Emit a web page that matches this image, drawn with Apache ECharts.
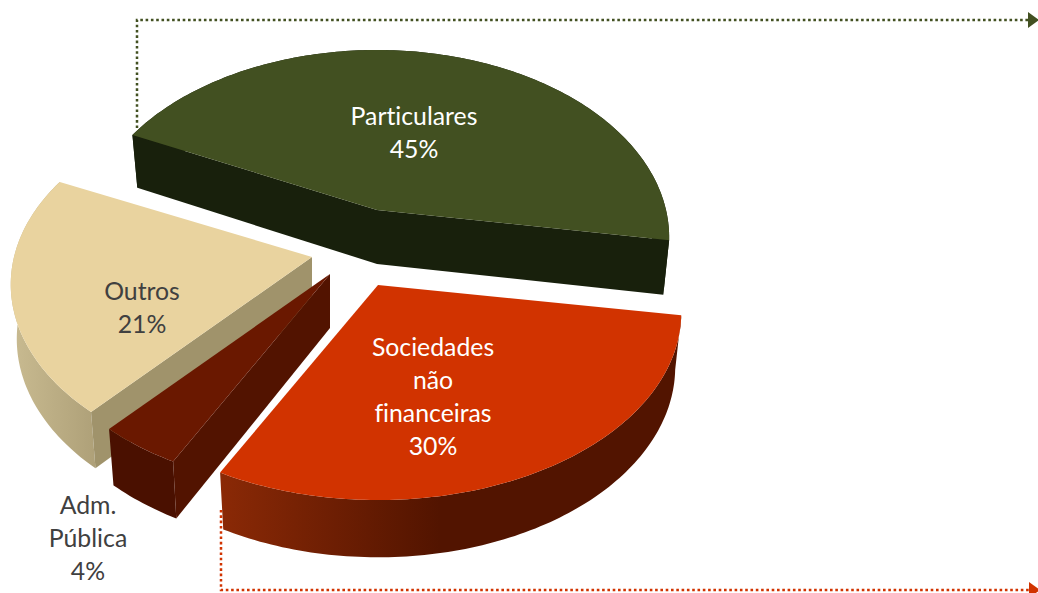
<!DOCTYPE html>
<html>
<head>
<meta charset="utf-8">
<style>html,body{margin:0;padding:0;background:#fff}#c{width:1038px;height:593px}#c text{font-variant-ligatures:none !important}</style>
<script src="https://cdn.jsdelivr.net/npm/echarts@6/dist/echarts.min.js"></script>
</head>
<body>
<div id="c"></div>
<script>
// ---- data ----
const categories = ['Particulares', 'Sociedades não financeiras', 'Adm. Pública', 'Outros'];
const values = [45.4, 30.0, 3.9, 20.7];
const labelLines = [
  ['Particulares'],
  ['Sociedades', 'não', 'financeiras'],
  ['Adm.', 'Pública'],
  ['Outros']
];

// ---- geometry and style (not data) ----
const START_DEG = -154.2;          // clockwise screen angle where the first slice starts
const K = 0.1467;                  // perspective of the tilted disc
const BY = 183.5;                  // vertical half-size
const slices = [
  { cx: 377, cy: 210, ax: 289, order: 1, top: '#425021', flat: '#18200c', arc: '#18200c',
    tx: 414, ty: 115.5, color: '#ffffff' },
  { cx: 378, cy: 285, ax: 300, order: 4, top: '#d13300', flat: '#521400',
    arc: { type: 'linear', x: 222, y: 0, x2: 440, y2: 0, global: true,
           colorStops: [{ offset: 0, color: '#8a2906' }, { offset: 1, color: '#521400' }] },
    tx: 433, ty: 346, color: '#ffffff' },
  { cx: 330, cy: 274, ax: 298, order: 3, top: '#6a1800', flat: '#521300', arc: '#4a1000',
    tx: 88, ty: 504, color: '#404040' },
  { cx: 312, cy: 257, ax: 298, order: 2, top: '#e9d39f', flat: '#a0936b',
    arc: { type: 'linear', x: 14, y: 0, x2: 100, y2: 0, global: true,
           colorStops: [{ offset: 0, color: '#c8ba90' }, { offset: 1, color: '#ad9f77' }] },
    tx: 142, ty: 290, color: '#404040' }
];
const LINE_H = 33, FONT = 24.8;
const connectors = [
  { color: '#425021', pts: [[137, 128], [137, 20], [1030, 20]], tri: [[1028, 12], [1039, 20], [1028, 28]] },
  { color: '#d13300', pts: [[221, 510], [221, 590], [1030, 590]], tri: [[1029, 582], [1040, 590], [1029, 598]] }
];

function renderSlice(params, api) {
  const i = params.dataIndex, s = slices[i];
  const total = values.reduce((a, b) => a + b, 0);
  let before = 0;
  for (let j = 0; j < i; j++) before += values[j];
  const a0 = START_DEG + before / total * 360;
  const a1 = a0 + api.value(1) / total * 360;
  const proj = d => {
    const r = d * Math.PI / 180, u = Math.cos(r), v = Math.sin(r), w = 1 - K * v;
    return [s.cx + s.ax * u / w, s.cy + BY * v / w];
  };
  const low = p => [s.cx + (p[0] - s.cx) * 0.98, p[1] + 54 + (p[1] - s.cy) * 0.015];
  const arc = [];
  for (let d = a0; d < a1; d += 1) arc.push(proj(d));
  arc.push(proj(a1));
  const apex = [s.cx, s.cy], first = arc[0], last = arc[arc.length - 1];
  const z = s.order * 10;
  const poly = (points, fill, z2) => ({
    type: 'polygon', shape: { points }, z2,
    style: { fill, stroke: null }
  });
  const facing = d => Math.sin(d * Math.PI / 180) > 0;
  const children = [poly(arc.concat(arc.map(low).reverse()), s.arc, z)];
  if (facing(a0 - 90)) children.push(poly([apex, first, low(first), low(apex)], s.flat, z + 1));
  if (facing(a1 + 90)) children.push(poly([apex, last, low(last), low(apex)], s.flat, z + 1));
  children.push(poly([apex].concat(arc), s.top, z + 2));
  const lines = labelLines[i].concat([Math.round(api.value(1)) + '%']);
  lines.forEach((t, n) => children.push({
    type: 'text', z2: 100,
    style: {
      x: s.tx, y: s.ty + n * LINE_H, text: t, fill: s.color,
      font: FONT + 'px Lato, "Open Sans", sans-serif', textAlign: 'center', textVerticalAlign: 'middle'
    }
  }));
  return { type: 'group', children };
}

function renderConnector(params) {
  const c = connectors[params.dataIndex];
  return { type: 'group', children: [
    { type: 'polyline', shape: { points: c.pts },
      style: { stroke: c.color, lineWidth: 2.5, lineDash: [2.6, 2.7], fill: null } },
    { type: 'polygon', shape: { points: c.tri }, style: { fill: c.color } }
  ] };
}

const chart = echarts.init(document.getElementById('c'), null, { renderer: 'svg' });
chart.setOption({
  animation: false,
  backgroundColor: '#ffffff',
  series: [
    { type: 'custom', coordinateSystem: 'none', z: 1, silent: true,
      renderItem: renderConnector, data: connectors.map((c, i) => [i]) },
    { type: 'custom', coordinateSystem: 'none', z: 2, name: 'Setores',
      renderItem: renderSlice,
      data: values.map((v, i) => ({ name: categories[i], value: [i, v] })) }
  ]
});
</script>
</body>
</html>
